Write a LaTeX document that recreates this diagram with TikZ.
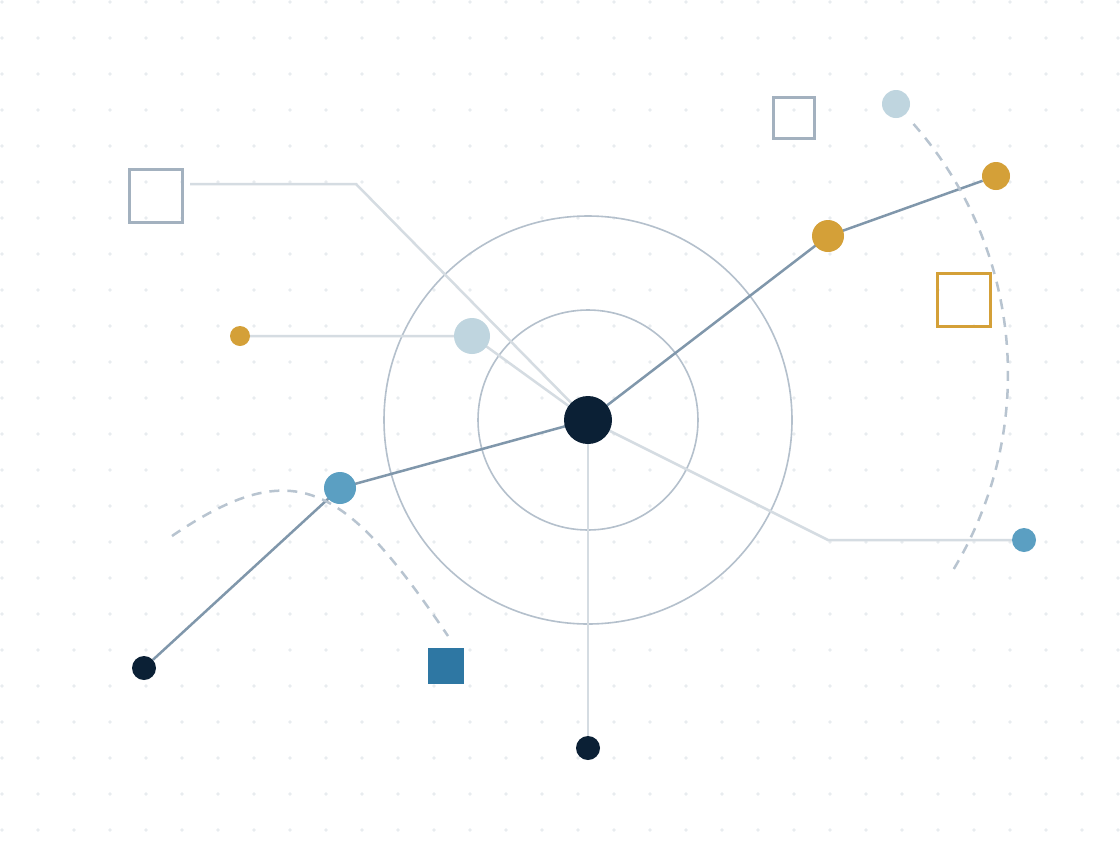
\documentclass[tikz,border=0pt]{standalone}
\usetikzlibrary{backgrounds}
\definecolor{navy}{HTML}{0B2035}
\definecolor{gold}{HTML}{D4A038}
\definecolor{midblue}{HTML}{5B9FC2}
\definecolor{paleblue}{HTML}{BFD5DF}
\definecolor{deepblue}{HTML}{2E77A3}
\definecolor{sqgray}{HTML}{A3B1BF}
\definecolor{strongline}{HTML}{8097AB}
\definecolor{softline}{HTML}{D5DCE2}
\definecolor{ringcol}{HTML}{B4C0CC}
\definecolor{gridcol}{HTML}{E8ECEF}
\definecolor{dashcol}{HTML}{B8C4D0}
\begin{document}
\begin{tikzpicture}[x=1pt,y=-1pt,
  dotnode/.style={circle,inner sep=0pt,minimum size=#1},
  strongedge/.style={draw=strongline,line width=2.5pt},
  softedge/.style={draw=softline,line width=2.5pt},
  ring/.style={draw=ringcol,line width=1.6pt},
  dashedcurve/.style={draw=dashcol,line width=2.5pt,dash pattern=on 10pt off 8pt},
  outlinesq/.style={draw=sqgray,line width=3pt,inner sep=0pt,minimum size=#1},
]
\useasboundingbox (0,0) rectangle (1120,860);
% nodes
\node[dotnode=48pt,fill=navy] (c) at (588,420) {};
\node[dotnode=32pt,fill=gold] (g1) at (828,236) {};
\node[dotnode=28pt,fill=gold] (g2) at (996,176) {};
\node[dotnode=32pt,fill=midblue] (b1) at (340,488) {};
\node[dotnode=24pt,fill=navy] (n1) at (144,668) {};
\node[dotnode=24pt,fill=navy] (n2) at (588,748) {};
\node[dotnode=24pt,fill=midblue] (b2) at (1024,540) {};
\node[dotnode=20pt,fill=gold] (g3) at (240,336) {};
\node[dotnode=36pt,fill=paleblue] (l1) at (472,336) {};
\node[dotnode=28pt,fill=paleblue] (l2) at (896,104) {};
\node[outlinesq=53pt] (s1) at (156,196) {};
\node[outlinesq=41pt] (s2) at (794,118) {};
\node[outlinesq=53pt,draw=gold] (s3) at (964,300) {};
\node[inner sep=0pt,minimum size=36pt,fill=deepblue] (s4) at (446,666) {};
\coordinate (k1) at (190,184);
\coordinate (k2) at (356,184);
\coordinate (k3) at (828,540);
\coordinate (d1s) at (172,536);
\coordinate (d1e) at (448,636);
\coordinate (d2s) at (913.5,124);
\begin{scope}[on background layer]
  \fill[white] (0,0) rectangle (1120,860);
  \foreach \i in {0,...,31}{
    \foreach \j in {0,...,23}{
      \fill[gridcol] (2+36*\i,2+36*\j) circle[radius=1.8pt];
    }
  }
  \draw[ring] (c.center) circle[radius=110pt];
  \draw[ring] (c.center) circle[radius=204pt];
  \draw[softedge] (k1) -- (k2) -- (c.center);
  \draw[softedge] (g3) -- (l1.center) -- (c.center);
  \draw[softedge] (c.center) -- (k3) -- (b2);
  \draw[softedge] (c.center) -- (n2);
  \draw[strongedge] (c.center) -- (g1.center) -- (g2);
  \draw[strongedge] (c.center) -- (b1.center) -- (n1);
  \draw[dashedcurve] (d1s) .. controls (297,451) and (346,486) .. (d1e);
  \draw[dashedcurve] (d2s) arc[start angle=41.4,end angle=-31.6,radius=378pt];
\end{scope}
\end{tikzpicture}
\end{document}
